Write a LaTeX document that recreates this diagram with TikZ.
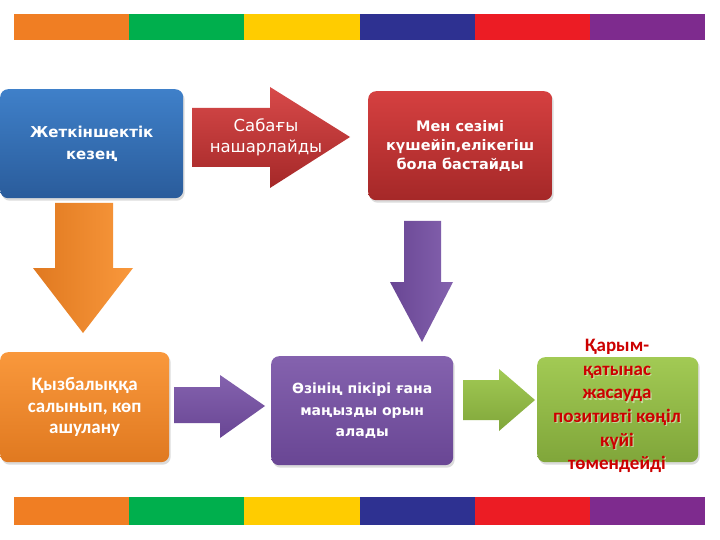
\documentclass[tikz,border=0pt]{standalone}
\usepackage{fontspec}
\newfontfamily\dvs{DejaVu Sans}
\newfontfamily\dvb{DejaVu Sans Bold}
\newfontfamily\clb{Carlito}
\usetikzlibrary{shadows}
\definecolor{barO}{HTML}{F07E23}
\definecolor{barG}{HTML}{00AF4D}
\definecolor{barY}{HTML}{FFCC00}
\definecolor{barB}{HTML}{2E3191}
\definecolor{barR}{HTML}{EC1C24}
\definecolor{barP}{HTML}{7E2B8E}
\definecolor{blueT}{HTML}{3F80C9}
\definecolor{blueB}{HTML}{2A5C9B}
\definecolor{redT}{HTML}{D54040}
\definecolor{redB}{HTML}{A52828}
\definecolor{oraT}{HTML}{F9983C}
\definecolor{oraB}{HTML}{E07920}
\definecolor{purT}{HTML}{8462AE}
\definecolor{purB}{HTML}{694694}
\definecolor{grnT}{HTML}{A2CA54}
\definecolor{grnB}{HTML}{80A63A}
\definecolor{txtRed}{HTML}{CC0000}
\begin{document}
\begin{tikzpicture}[x=1pt,y=-1pt,
  box/.style={rounded corners=8pt, inner sep=4pt, align=center, text=white,
    drop shadow={opacity=0.28, shadow xshift=1.5pt, shadow yshift=-2.5pt}},
  cltext/.style={font=\clb\bfseries\fontsize{19}{21.5}\selectfont}]
\useasboundingbox (0,0) rectangle (720,540);
\fill[white] (0,0) rectangle (720,540);
% colour bars
\foreach \c [count=\i from 0] in {barO,barG,barY,barB,barR,barP}{
  \fill[\c] (14+115.2*\i,14) rectangle (14+115.2*\i+115.2,40);
  \fill[\c] (14+115.2*\i,497) rectangle (14+115.2*\i+115.2,525);
}
% boxes
\node[box, font=\dvb\fontsize{15}{22}\selectfont, top color=blueT, bottom color=blueB, minimum width=183pt, minimum height=109pt, anchor=north west] (b1) at (0,89) {Жеткіншектік\\кезең};
\node[box, font=\dvb\fontsize{14.5}{18.8}\selectfont, top color=redT, bottom color=redB, minimum width=184pt, minimum height=109pt, anchor=north west] (b2) at (368,91) {Мен сезімі\\күшейіп,елікегіш\\бола бастайды};
\node[box, cltext, top color=oraT, bottom color=oraB, minimum width=169pt, minimum height=110pt, anchor=north west] (b3) at (0,352) {Қызбалыққа\\салынып, көп\\ашулану};
\node[box, font=\dvb\fontsize{14}{21.5}\selectfont, top color=purT, bottom color=purB, minimum width=182pt, minimum height=109pt, anchor=north west] (b4) at (271,356) {Өзінің пікірі ғана\\маңызды орын\\алады};
\node[box, top color=grnT, bottom color=grnB, minimum width=161pt, minimum height=105pt, anchor=north west] (b5) at (537,357) {};
\node[text=white, opacity=0.45, align=center, font=\clb\bfseries\fontsize{19}{23.6}\selectfont] (t5s) at (618.2,407.2) {Қарым-\\қатынас\\жасауда\\позитивті көңіл\\күйі\\төмендейді};
\node[text=txtRed, align=center, font=\clb\bfseries\fontsize{19}{23.6}\selectfont] (t5) at (617,406) {Қарым-\\қатынас\\жасауда\\позитивті көңіл\\күйі\\төмендейді};
% block arrows
\shade[top color=redT!95!white, bottom color=redB] (192,108) -- (270,108) -- (270,87) -- (350,137) -- (270,188) -- (270,167) -- (192,167) -- cycle;
\node[text=white, align=center, font=\dvs\fontsize{16.5}{21}\selectfont] (a1) at (266,137.5) {Сабағы\\нашарлайды};
\shade[left color=oraB, right color=oraT] (55,203) -- (113,203) -- (113,268) -- (133,268) -- (83,333) -- (33,268) -- (55,268) -- cycle;
\shade[left color=purB, right color=purT] (404,221) -- (441,221) -- (441,282) -- (453,282) -- (422,342) -- (390,282) -- (404,282) -- cycle;
\shade[top color=purT, bottom color=purB] (174,387) -- (220,387) -- (220,375) -- (265,406) -- (220,438) -- (220,423) -- (174,423) -- cycle;
\shade[top color=grnT, bottom color=grnB] (463,380) -- (499,380) -- (499,369) -- (535,400) -- (499,431) -- (499,420) -- (463,420) -- cycle;
\end{tikzpicture}
\end{document}
